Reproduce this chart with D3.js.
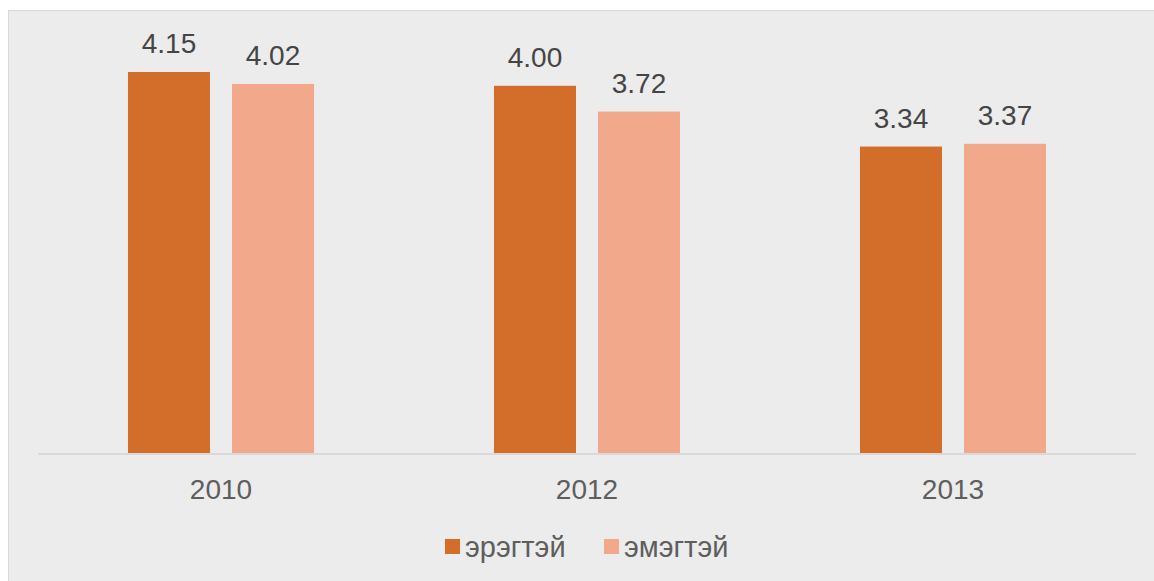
<!DOCTYPE html>
<html>
<head>
<meta charset="utf-8">
<script src="https://cdn.jsdelivr.net/npm/d3@7"></script>
<style>
  html, body { margin: 0; padding: 0; background: #ffffff; }
  svg { display: block; }
  text { font-family: "Liberation Sans", Arial, sans-serif; }
</style>
</head>
<body>
<svg id="chart" width="1154" height="581"></svg>
<script>
const categories = ["2010", "2012", "2013"];
const seriesNames = ["эрэгтэй", "эмэгтэй"];
const maleValues = [4.15, 4.00, 3.34];
const femaleValues = [4.02, 3.72, 3.37];
const valueLabels = [["4.15", "4.02"], ["4.00", "3.72"], ["3.34", "3.37"]];
const colors = ["#D36E2A", "#F2A98B"];

const svg = d3.select("#chart");
const W = 1154, H = 581;

// panel
svg.append("rect").attr("x", 8.5).attr("y", 10.5).attr("width", W - 8).attr("height", H - 10)
  .attr("fill", "#ECECEC").attr("stroke", "#D9D9D9").attr("stroke-width", 1);

const plotLeft = 38, plotRight = 1136, baseY = 454;
const pxPerUnit = 92.05;
const y = d3.scaleLinear().domain([0, 4.5]).range([baseY, baseY - 4.5 * pxPerUnit]);

const x0 = d3.scaleBand().domain(categories).range([plotLeft, plotRight]).paddingInner(0).paddingOuter(0);
const x1 = d3.scaleBand().domain(seriesNames).range([0, x0.bandwidth()])
  .paddingInner(22 / 104).paddingOuter(0.865);

const data = categories.map((c, i) => ({
  cat: c,
  vals: [
    { s: seriesNames[0], v: maleValues[i], label: valueLabels[i][0], color: colors[0] },
    { s: seriesNames[1], v: femaleValues[i], label: valueLabels[i][1], color: colors[1] }
  ]
}));

const groups = svg.append("g").selectAll("g").data(data).join("g")
  .attr("transform", d => `translate(${x0(d.cat)},0)`);

groups.selectAll("rect").data(d => d.vals).join("rect")
  .attr("x", d => x1(d.s))
  .attr("y", d => y(d.v))
  .attr("width", x1.bandwidth())
  .attr("height", d => y(0) - y(d.v))
  .attr("fill", d => d.color);

groups.selectAll("text").data(d => d.vals).join("text")
  .attr("x", d => x1(d.s) + x1.bandwidth() / 2)
  .attr("y", d => y(d.v) - 19)
  .attr("text-anchor", "middle")
  .attr("font-size", 28)
  .attr("fill", "#454545")
  .text(d => d.label);

// baseline axis
const xAxis = d3.axisBottom(x0).tickSize(0).tickPadding(0);
const axisG = svg.append("g").attr("transform", `translate(0,${baseY})`).call(xAxis);
axisG.select(".domain").attr("stroke", "#D9D9D9").attr("stroke-width", 2).attr("d", `M${plotLeft},0H${plotRight}`);
axisG.selectAll(".tick text")
  .attr("font-size", 28)
  .attr("font-family", "'Liberation Sans', Arial, sans-serif")
  .attr("fill", "#5E5E5E")
  .attr("dy", null)
  .attr("y", 45);

// legend
const legendY = 539;
const legend = svg.append("g");
const legendX = [445, 604];
seriesNames.forEach((s, i) => {
  legend.append("rect").attr("x", legendX[i]).attr("y", legendY).attr("width", 15).attr("height", 15).attr("fill", colors[i]);
  legend.append("text").attr("x", legendX[i] + 20).attr("y", legendY + 18)
    .attr("font-size", 29).attr("fill", "#5E5E5E").text(s);
});
</script>
</body>
</html>
